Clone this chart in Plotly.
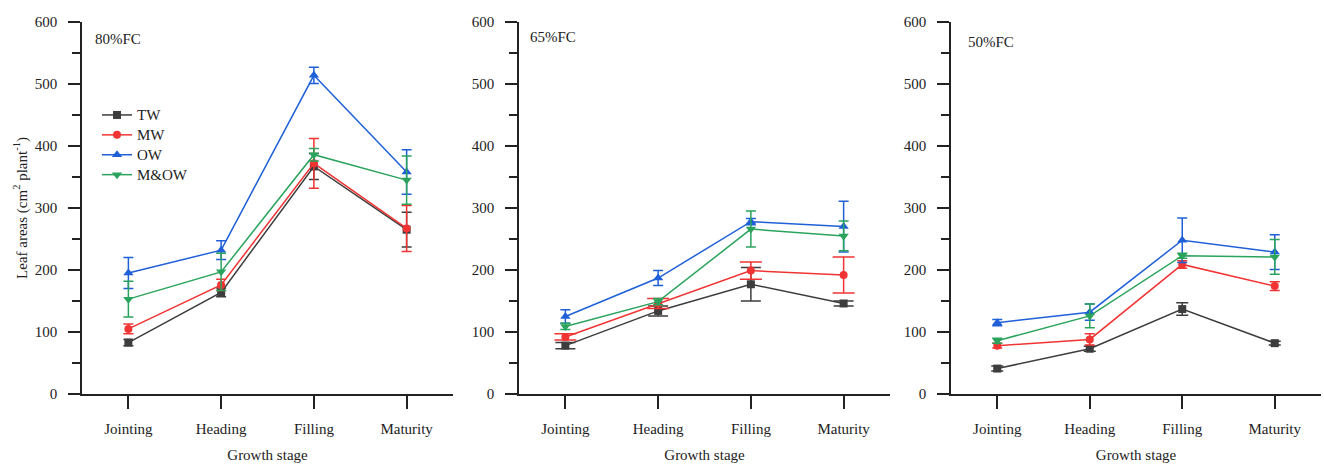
import plotly.graph_objects as go

# Growth stages on the x axis
stages = ["Jointing", "Heading", "Filling", "Maturity"]
panels = ["80%FC", "65%FC", "50%FC"]
series_names = ["TW", "MW", "OW", "M&OW"]

# Leaf area (cm2 plant-1) means and SD, per water regime
fc80_tw = [83, 164, 367, 265]
fc80_tw_sd = [5, 7, 21, 28]
fc80_mw = [105, 176, 372, 267]
fc80_mw_sd = [8, 9, 40, 37]
fc80_ow = [195, 232, 514, 358]
fc80_ow_sd = [25, 15, 13, 36]
fc80_mow = [153, 197, 386, 345]
fc80_mow_sd = [29, 30, 10, 39]

fc65_tw = [78, 134, 177, 146]
fc65_tw_sd = [5, 8, 27, 4]
fc65_mw = [92, 146, 199, 192]
fc65_mw_sd = [5, 8, 14, 29]
fc65_ow = [125, 187, 278, 270]
fc65_ow_sd = [11, 12, 5, 41]
fc65_mow = [109, 149, 266, 255]
fc65_mow_sd = [5, 5, 29, 24]

fc50_tw = [41, 73, 137, 82]
fc50_tw_sd = [4, 4, 10, 3]
fc50_mw = [78, 88, 209, 174]
fc50_mw_sd = [4, 9, 6, 7]
fc50_ow = [115, 132, 248, 229]
fc50_ow_sd = [5, 13, 36, 28]
fc50_mow = [86, 126, 223, 221]
fc50_mow_sd = [4, 19, 4, 28]

panel_data = [
    [(fc80_tw, fc80_tw_sd), (fc80_mw, fc80_mw_sd), (fc80_ow, fc80_ow_sd), (fc80_mow, fc80_mow_sd)],
    [(fc65_tw, fc65_tw_sd), (fc65_mw, fc65_mw_sd), (fc65_ow, fc65_ow_sd), (fc65_mow, fc65_mow_sd)],
    [(fc50_tw, fc50_tw_sd), (fc50_mw, fc50_mw_sd), (fc50_ow, fc50_ow_sd), (fc50_mow, fc50_mow_sd)],
]

colors = ["#3d3d3d", "#f03434", "#1f60d8", "#2aa35c"]
symbols = ["square", "circle", "triangle-up", "triangle-down"]
# half-width of error-bar caps per panel and series
cap_w = [[5, 5, 5, 5], [10, 11, 5, 5], [6, 5, 5, 5]]

FONT = "Liberation Serif, Times New Roman, serif"
W, H = 1324, 468

fig = go.Figure()

x_domains = [(82 / W, 453 / W), (519 / W, 890 / W), (951 / W, 1321 / W)]
y_domain = (74 / H, 446 / H)

for p in range(3):
    xa = "x" if p == 0 else f"x{p + 1}"
    ya = "y" if p == 0 else f"y{p + 1}"
    for s in range(4):
        vals, sd = panel_data[p][s]
        fig.add_trace(go.Scatter(
            x=stages, y=vals, xaxis=xa, yaxis=ya,
            # legend rows are spaced for 13px text; labels shown at 15px
            name=f'<span style="font-size:15px">{series_names[s]}</span>',
            showlegend=(p == 0),
            mode="lines+markers",
            line=dict(color=colors[s], width=1.5),
            marker=dict(symbol=symbols[s], size=9 if s >= 2 else 8, color=colors[s]),
            error_y=dict(type="data", array=sd, visible=True,
                         color=colors[s], thickness=1.5, width=cap_w[p][s]),
        ))

axis_font = dict(family=FONT, size=15, color="#222222")
for p in range(3):
    suffix = "" if p == 0 else str(p + 1)
    fig.layout["xaxis" + suffix] = dict(
        domain=x_domains[p], anchor="y" + suffix, automargin=False,
        type="category", range=[-0.5, 3.5],
        showline=True, linecolor="#222222", linewidth=1.5,
        ticks="outside", ticklen=13, tickwidth=1.5, tickcolor="#222222",
        showgrid=False, zeroline=False,
        tickfont=axis_font, ticklabelstandoff=7,
        title=dict(text="Growth stage", font=axis_font, standoff=14),
    )
    fig.layout["yaxis" + suffix] = dict(
        domain=y_domain, anchor="x" + suffix, automargin=False,
        range=[0, 600], tickvals=[0, 100, 200, 300, 400, 500, 600],
        showline=True, linecolor="#222222", linewidth=1.5,
        ticks="outside", ticklen=12, tickwidth=1.5, tickcolor="#222222",
        minor=dict(tickvals=[50, 150, 250, 350, 450, 550], ticks="outside",
                   ticklen=8, tickwidth=1.5, tickcolor="#222222"),
        showgrid=False, zeroline=False,
        tickfont=axis_font, ticklabelstandoff=8,
    )

fig.layout.yaxis.title = dict(text="Leaf areas (cm<sup>2</sup> plant<sup>-1</sup>)",
                              font=axis_font, standoff=4)

label_pos = [(93, 39), (528, 37), (966, 42)]
for p in range(3):
    fig.add_annotation(text=panels[p], xref="paper", yref="paper",
                       x=label_pos[p][0] / W, y=1 - label_pos[p][1] / H,
                       xanchor="left", yanchor="middle", showarrow=False,
                       font=dict(family=FONT, size=15, color="#222222"))

fig.update_layout(
    width=W, height=H,
    margin=dict(l=0, r=0, t=0, b=0, autoexpand=False),
    paper_bgcolor="white", plot_bgcolor="white",
    font=dict(family=FONT, size=15, color="#222222"),
    legend=dict(x=97 / W, y=1 - 100 / H, xanchor="left", yanchor="top",
                bgcolor="rgba(0,0,0,0)", font=dict(family=FONT, size=13, color="#222222"),
                tracegroupgap=0, itemwidth=30),
)

fig.write_html("out.html")
